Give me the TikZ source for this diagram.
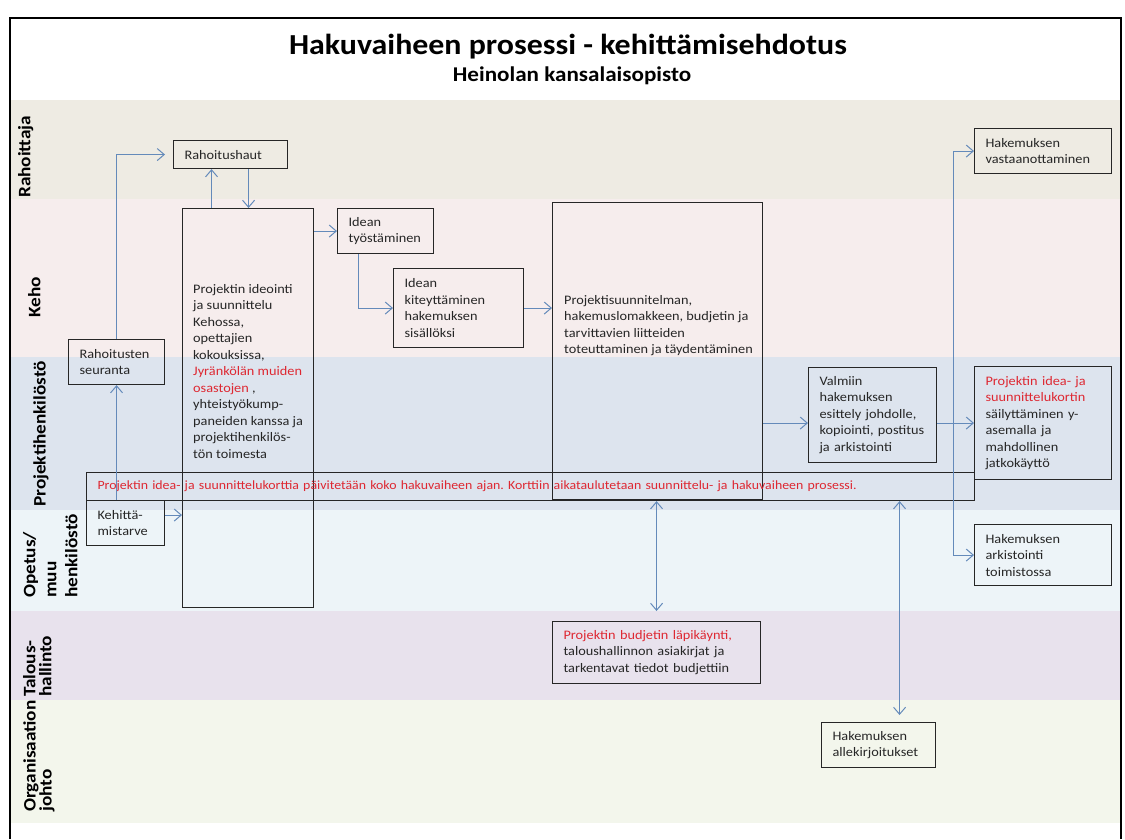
\documentclass[tikz,border=0pt]{standalone}
\usepackage{fontspec}
\setmainfont{Carlito}[FakeStretch=1.1]
\usetikzlibrary{arrows.meta}
\definecolor{rahoitus}{RGB}{238,235,227}
\definecolor{keho}{RGB}{246,237,237}
\definecolor{projekti}{RGB}{221,228,238}
\definecolor{opetus}{RGB}{237,244,248}
\definecolor{talous}{RGB}{232,226,237}
\definecolor{johto}{RGB}{243,246,236}
\definecolor{nuolisini}{RGB}{100,138,186}
\definecolor{punainen}{RGB}{222,40,50}
\newcommand{\teksti}{\fontsize{13}{16.5}\selectfont}
\frenchspacing

\begin{document}
\begin{tikzpicture}[x=1pt,y=-1pt,>={Straight Barb[length=7pt,width=12pt]},
  laatikko/.style={draw=black!85,line width=1.1pt,anchor=north west,align=left,inner xsep=11pt,inner ysep=0pt,text=black!85,font=\teksti},
  teksti/.style={anchor=north west,align=left,inner sep=0pt,text=black!85,font=\teksti},
  nuoli/.style={->,nuolisini,line width=1pt},
  kaista/.style={rotate=90,anchor=north west,align=left,inner sep=0pt,font=\bfseries\fontsize{17.5}{21}\selectfont}]
\useasboundingbox (0,0) rectangle (1125,839);
\fill[white] (0,0) rectangle (1125,839);
\fill[rahoitus] (10,100) rectangle (1121,199);
\fill[keho] (10,199) rectangle (1121,357);
\fill[projekti] (10,357) rectangle (1121,510);
\fill[opetus] (10,510) rectangle (1121,611);
\fill[talous] (10,611) rectangle (1121,700);
\fill[johto] (10,700) rectangle (1121,823);
\draw[line width=2pt] (10,839) -- (10,18) -- (1121,18) -- (1121,839);

\node[font=\bfseries\fontsize{29}{32}\selectfont] (otsikko) at (568,47) {Hakuvaiheen prosessi - kehittämisehdotus};
\node[font=\bfseries\fontsize{21}{23}\selectfont] (alaotsikko) at (572,76) {Heinolan kansalaisopisto};

\node[kaista] (rahoittaja) at (18,198) {Rahoittaja};
\node[kaista] (keho) at (28,318) {Keho};
\node[kaista] (projekti) at (33,507) {Projektihenkilöstö};
\node[kaista] (opetus) at (23,598) {Opetus/\\muu\\henkilöstö};
\node[kaista,font=\bfseries\fontsize{17.5}{16}\selectfont] (talous) at (23,697) {Talous-\\hallinto};
\node[kaista,font=\bfseries\fontsize{17.5}{16}\selectfont] (johto) at (23,812) {Organisaation\\johto};

\node[laatikko,text width=92pt,minimum height=28pt] (haut) at (173,140) {Rahoitushaut};
\node[laatikko,text width=109pt,minimum height=399pt] (ideointi) at (182,208) {};
\node[teksti] (ideointiteksti) at ([xshift=11pt,yshift=-76pt]ideointi.north west) {Projektin ideointi\\ja suunnittelu\\Kehossa,\\opettajien\\kokouksissa,\\\textcolor{punainen}{Jyränkölän muiden}\\\textcolor{punainen}{osastojen} ,\\yhteistyökump-\\paneiden kanssa ja\\projektihenkilös-\\tön toimesta};
\node[laatikko,text width=74pt,minimum height=45pt] (tyosto) at (337,208) {Idean\\työstäminen};
\node[laatikko,text width=108pt,minimum height=79pt] (kiteytys) at (393,268) {Idean\\kiteyttäminen\\hakemuksen\\sisällöksi};
\node[laatikko,text width=188pt,minimum height=297pt] (suunnitelma) at (552,202) {};
\node[teksti] (suunnitelmateksti) at ([xshift=12pt,yshift=-93pt]suunnitelma.north west) {Projektisuunnitelman,\\hakemuslomakkeen, budjetin ja\\tarvittavien liitteiden\\toteuttaminen ja täydentäminen};
\node[laatikko,text width=106pt,minimum height=95pt] (valmis) at (808,367) {Valmiin\\hakemuksen\\esittely johdolle,\\kopiointi,~postitus\\ja arkistointi};
\node[laatikko,text width=115pt,minimum height=113pt] (kortti) at (974,366) {\textcolor{punainen}{Projektin idea- ja}\\\textcolor{punainen}{suunnittelukortin}\\säilyttäminen y-\\asemalla ja\\mahdollinen\\jatkokäyttö};
\node[laatikko,text width=115pt,minimum height=45pt] (vastaanotto) at (974,128) {Hakemuksen\\vastaanottaminen};
\node[laatikko,text width=115pt,minimum height=61pt] (arkisto) at (974,524) {Hakemuksen\\arkistointi\\toimistossa};
\node[laatikko,text width=74pt,minimum height=45pt] (seuranta) at (68,339) {Rahoitusten\\seuranta};
\node[laatikko,text width=866pt,minimum height=28pt,text=punainen,font=\fontsize{12.6}{15}\selectfont] (palkki) at (86,472) {Projektin idea- ja suunnittelukorttia päivitetään koko hakuvaiheen ajan. Korttiin aikataulutetaan suunnittelu- ja hakuvaiheen prosessi.};
\node[laatikko,text width=56pt,minimum height=45pt] (kehitys) at (86,500) {Kehittä-\\mistarve};
\node[laatikko,text width=186pt,minimum height=62pt] (budjetti) at (552,621) {\textcolor{punainen}{Projektin budjetin läpikäynti,}\\taloushallinnon asiakirjat ja\\tarkentavat tiedot budjettiin};
\node[laatikko,text width=92pt,minimum height=45pt] (allekirjoitus) at (821,722) {Hakemuksen\\allekirjoitukset};

\draw[nuoli,shorten >=8pt] (seuranta.north) |- (haut.west);
\draw[nuoli] ([xshift=-19pt]haut.south |- ideointi.north) -- ([xshift=-19pt]haut.south);
\draw[nuoli] ([xshift=18pt]haut.south) -- ([xshift=18pt]haut.south |- ideointi.north);
\draw[nuoli] (ideointi.east |- tyosto.west) -- (tyosto.west);
\draw[nuoli] ([xshift=-27pt]tyosto.south) |- (kiteytys.west);
\draw[nuoli] (kiteytys.east) -- (kiteytys.east -| suunnitelma.west);
\draw[nuoli] (suunnitelma.east |- kortti.west) -- (valmis.west |- kortti.west);
\draw[nuoli] (valmis.east |- kortti.west) -- (kortti.west);
\coordinate (haara) at ([xshift=-21pt]kortti.west);
\draw[nuoli] (haara) |- (vastaanotto.west);
\draw[nuoli] (haara) |- (arkisto.west);
\draw[nuoli] ([yshift=8pt]kehitys.east) -- ([yshift=8pt]kehitys.east -| ideointi.west);
\draw[nuoli] (kehitys.north -| seuranta.south) -- (seuranta.south);
\draw[nuoli,<->,shorten >=10pt] (budjetti.north |- palkki.south) -- (budjetti.north);
\draw[nuoli,<->,shorten >=7pt] ([xshift=21pt]allekirjoitus.north |- palkki.south) -- ([xshift=21pt]allekirjoitus.north);
\end{tikzpicture}
\end{document}
